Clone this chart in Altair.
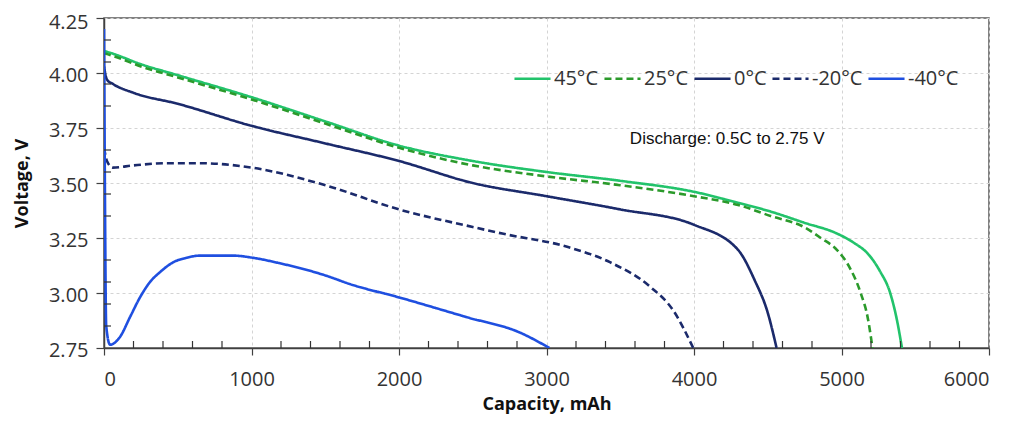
import altair as alt
import pandas as pd

# ---- data ----
temps = ["45°C", "25°C", "0°C", "-20°C", "-40°C"]

cap_45 = [0, 50, 250, 500, 1000, 1500, 2000, 2500, 3000, 3500, 4000, 4300, 4520, 4745, 4970, 5080, 5190, 5260, 5330, 5375, 5410]
v_45 = [4.10, 4.09, 4.04, 3.99, 3.89, 3.78, 3.67, 3.60, 3.55, 3.51, 3.46, 3.41, 3.37, 3.32, 3.27, 3.23, 3.17, 3.10, 3.00, 2.88, 2.75]

cap_25 = [0, 50, 250, 500, 1000, 1500, 2000, 2500, 3000, 3500, 4000, 4300, 4520, 4745, 4860, 4970, 5060, 5130, 5180, 5210]
v_25 = [4.09, 4.08, 4.03, 3.98, 3.88, 3.77, 3.66, 3.58, 3.53, 3.49, 3.44, 3.40, 3.35, 3.30, 3.25, 3.195, 3.11, 3.00, 2.88, 2.75]

cap_0 = [0, 20, 61, 200, 500, 1000, 1500, 2000, 2500, 3000, 3500, 4000, 4300, 4410, 4500, 4560]
v_0 = [4.03, 3.97, 3.95, 3.91, 3.86, 3.76, 3.68, 3.60, 3.50, 3.44, 3.38, 3.31, 3.195, 3.06, 2.91, 2.75]

cap_m20 = [0, 20, 60, 200, 430, 650, 1000, 1500, 2000, 2500, 2700, 3140, 3430, 3700, 3860, 3995]
v_m20 = [3.66, 3.60, 3.57, 3.58, 3.59, 3.59, 3.57, 3.49, 3.38, 3.30, 3.27, 3.21, 3.14, 3.03, 2.92, 2.75]

cap_m40 = [0, 5, 15, 41, 108, 176, 244, 312, 380, 470, 560, 650, 877, 1010, 1193, 1500, 1670, 2000, 2460, 2820, 3020]
v_m40 = [4.20, 3.60, 2.85, 2.765, 2.80, 2.89, 2.98, 3.05, 3.095, 3.14, 3.16, 3.17, 3.17, 3.16, 3.135, 3.08, 3.04, 2.98, 2.89, 2.82, 2.75]

x_major = [0, 1000, 2000, 3000, 4000, 5000, 6000]
x_minor = [c for c in range(200, 6000, 200) if c % 1000 != 0]
y_major = [2.75, 3.00, 3.25, 3.50, 3.75, 4.00, 4.25]
y_minor = [2.85, 2.95, 3.05, 3.15, 3.35, 3.45, 3.55, 3.65, 3.85, 3.95, 4.05, 4.15]

colors = ["#22c36b", "#2b9a2b", "#1b2a6b", "#1b2a6b", "#1f4fe0"]
dashes = [[1, 0], [7, 4], [1, 0], [7, 4], [1, 0]]

rows = []
for t, caps, vs in zip(temps, [cap_45, cap_25, cap_0, cap_m20, cap_m40],
                       [v_45, v_25, v_0, v_m20, v_m40]):
    for c, v in zip(caps, vs):
        rows.append({"temp": t, "cap": c, "volt": v})
df = pd.DataFrame(rows)

W, H = 885, 330
FONT = "Open Sans"

xscale = alt.Scale(domain=[0, 6000], nice=False, zero=False)
yscale = alt.Scale(domain=[2.75, 4.25], nice=False, zero=False)

lines = alt.Chart(df).mark_line(strokeWidth=2.6, interpolate="monotone", clip=True).encode(
    x=alt.X("cap:Q", scale=xscale,
            axis=alt.Axis(values=x_major, title="Capacity, mAh", format="d",
                          tickSize=7, labelPadding=14, titlePadding=6,
                          grid=True)),
    y=alt.Y("volt:Q", scale=yscale,
            axis=alt.Axis(values=y_major, title="Voltage, V", format=".2f",
                          tickSize=8, labelPadding=8, titlePadding=17,
                          labelOffset={"condition": {"test": "datum.value > 4.2", "value": 4},
                                       "value": 2},
                          grid=True)),
    color=alt.Color("temp:N", scale=alt.Scale(domain=temps, range=colors),
                    legend=alt.Legend(title=None, orient="none", direction="horizontal",
                                      legendX=409, legendY=41, symbolType="stroke",
                                      symbolSize=1300, symbolStrokeWidth=2.6,
                                      labelFontSize=20, labelFont=FONT, labelColor="#333333",
                                      labelOffset=2, columnPadding=0, padding=0)),
    strokeDash=alt.StrokeDash("temp:N", scale=alt.Scale(domain=temps, range=dashes),
                              legend=alt.Legend(title=None, orient="none")),
    order=alt.Order("cap:Q"),
    detail="temp:N",
)

xminor_df = pd.DataFrame({"cap": x_minor})
yminor_df = pd.DataFrame({"volt": y_minor})

xminor = alt.Chart(xminor_df).mark_rule(color="#333333", strokeWidth=1.2).encode(
    x=alt.X("cap:Q", scale=xscale), y=alt.value(H), y2=alt.value(H - 7))
yminor = alt.Chart(yminor_df).mark_rule(color="#333333", strokeWidth=1.2).encode(
    y=alt.Y("volt:Q", scale=yscale), x=alt.value(0), x2=alt.value(7))

note = alt.Chart(pd.DataFrame({"t": ["Discharge: 0.5C to 2.75 V"]})).mark_text(
    font="Liberation Sans Narrow, Arial Narrow, Liberation Sans", fontSize=17,
    color="#111111", align="center", baseline="middle").encode(
    text="t:N", x=alt.datum(4225), y=alt.datum(3.70))

chart = alt.layer(lines, xminor, yminor, note).properties(
    width=W, height=H,
    background="white",
    autosize=alt.AutoSizeParams(type="none"),
    padding={"left": 96, "top": 10, "right": 30, "bottom": 72},
).configure_view(stroke="#595959", strokeWidth=1.5).configure_axis(
    labelFont=FONT, labelFontSize=20, labelColor="#333333",
    titleFont=FONT, titleFontSize=18, titleFontWeight="bold", titleColor="#111111",
    domainColor="#404040", domainWidth=1.5, tickColor="#404040", tickWidth=1.2,
    gridColor="#d4d4d4", gridDash=[3, 3], gridWidth=1,
)

chart.save("out.html", embed_options={"renderer": "svg", "actions": False})
